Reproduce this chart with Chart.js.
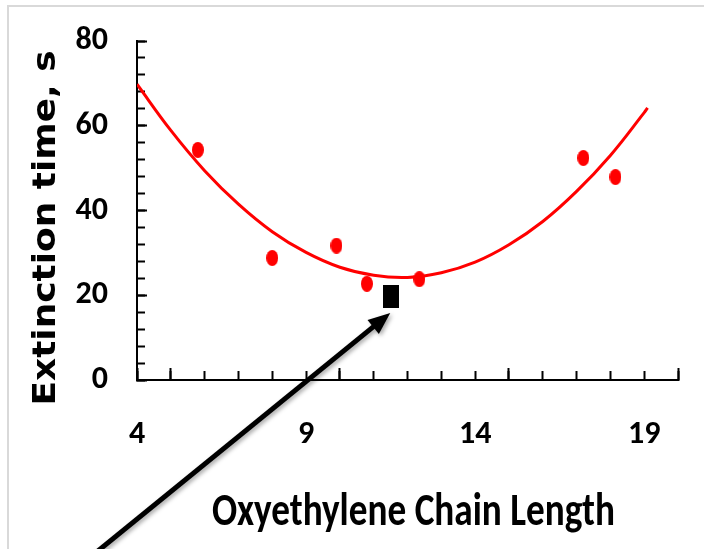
<!DOCTYPE html>
<html><head><meta charset="utf-8">
<script src="https://cdn.jsdelivr.net/npm/chart.js@4.4.1/dist/chart.umd.min.js"></script>
<style>
html,body{margin:0;padding:0;background:#fff;overflow:hidden;}
#wrap{position:relative;width:704px;height:549px;overflow:hidden;}
#frame{position:absolute;left:7px;top:5px;width:720px;height:600px;border-top:2px solid #d9d9d9;border-left:2px solid #d9d9d9;pointer-events:none;}
canvas{position:absolute;left:0;top:0;}
</style></head><body>
<div id="wrap"><div id="frame"></div><canvas id="c" width="704" height="549"></canvas></div>
<script>
// ---- data ----
const chainLength = [5.8, 8.0, 9.9, 10.8, 12.35, 17.2, 18.15];
const extinctionTime = [54.3, 28.8, 31.7, 22.7, 23.8, 52.4, 47.9];
const highlightLength = [11.5];
const highlightTime = [19.7];
const trendLength = [4, 5, 6, 7, 8, 9, 10, 11, 12, 13, 14, 15, 16, 17, 18, 19, 19.1];
const trendTime = [69.8, 58.9, 49.4, 41.5, 35.0, 30.1, 26.6, 24.7, 24.2, 25.3, 27.8, 31.9, 37.4, 44.5, 53.0, 63.1, 64.2];
const xTickLabels = [4, 9, 14, 19];
const yTickLabels = [0, 20, 40, 60, 80];
const arrowTail = {x: 2.05, y: -45.5};
const arrowTip = {x: 11.49, y: 15.8};
const xTitle = 'Oxyethylene Chain Length';
const yTitle = 'Extinction time, s';

const TICKFONT = 'Carlito, "Roboto Condensed", Roboto, sans-serif';
const TITLEFONT = 'Carlito, "Roboto Condensed", Roboto, sans-serif';

function makeEllipse(w, h, color) {
  const c = document.createElement('canvas'); c.width = w; c.height = h;
  const g = c.getContext('2d'); g.fillStyle = color;
  g.beginPath(); g.ellipse(w / 2, h / 2, w / 2, h / 2, 0, 0, Math.PI * 2); g.fill();
  return c;
}
function makeRect(w, h, color) {
  const c = document.createElement('canvas'); c.width = w; c.height = h;
  const g = c.getContext('2d'); g.fillStyle = color; g.fillRect(0, 0, w, h);
  return c;
}
const redDot = makeEllipse(12, 16, '#ff0000');
const blackSquare = makeRect(16, 23, '#000000');

const toXY = (xs, ys) => xs.map((x, i) => ({x: x, y: ys[i]}));

const titlesPlugin = {
  id: 'titles',
  afterDraw(chart) {
    const ctx = chart.ctx, ca = chart.chartArea;
    ctx.save();
    ctx.fillStyle = '#000';
    ctx.font = 'bold 46px ' + TITLEFONT;
    ctx.textAlign = 'center';
    ctx.textBaseline = 'alphabetic';
    let w = ctx.measureText(xTitle).width;
    ctx.save();
    ctx.translate((ca.left + ca.right) / 2 + 6, ca.bottom + 145);
    ctx.scale(403 / w, 1);
    ctx.fillText(xTitle, 0, 0);
    ctx.restore();
    ctx.font = 'bold 32px "DejaVu Sans", Verdana, sans-serif';
    w = ctx.measureText(yTitle).width;
    ctx.save();
    ctx.translate(ca.left - 82, (ca.top + ca.bottom) / 2 + 17.5);
    ctx.rotate(-Math.PI / 2);
    ctx.scale(355 / w, 1);
    ctx.fillText(yTitle, 0, 0);
    ctx.restore();
    ctx.restore();
  }
};

const arrowPlugin = {
  id: 'arrow',
  afterDraw(chart) {
    const ctx = chart.ctx, xs = chart.scales.x, ys = chart.scales.y;
    const x0 = xs.getPixelForValue(arrowTail.x), y0 = ys.getPixelForValue(arrowTail.y);
    const x1 = xs.getPixelForValue(arrowTip.x), y1 = ys.getPixelForValue(arrowTip.y);
    const ang = Math.atan2(y1 - y0, x1 - x0);
    const headLen = 22, headHalf = 9;
    const bx = x1 - headLen * Math.cos(ang), by = y1 - headLen * Math.sin(ang);
    ctx.save();
    ctx.shadowColor = 'rgba(0,0,0,0.35)';
    ctx.shadowBlur = 4; ctx.shadowOffsetX = 2; ctx.shadowOffsetY = 2;
    ctx.strokeStyle = '#000'; ctx.fillStyle = '#000'; ctx.lineWidth = 5;
    ctx.beginPath(); ctx.moveTo(x0, y0); ctx.lineTo(bx + 2 * Math.cos(ang), by + 2 * Math.sin(ang)); ctx.stroke();
    ctx.beginPath();
    ctx.moveTo(x1, y1);
    ctx.lineTo(bx + headHalf * Math.sin(ang), by - headHalf * Math.cos(ang));
    ctx.lineTo(bx - headHalf * Math.sin(ang), by + headHalf * Math.cos(ang));
    ctx.closePath(); ctx.fill();
    ctx.restore();
  }
};

const zeroPad = s => { s.paddingTop = 0; s.paddingBottom = 0; s.paddingLeft = 0; s.paddingRight = 0; };
const tickGrid = len => ({drawOnChartArea: false, drawTicks: true, tickLength: len, tickColor: '#000', tickWidth: 2});

new Chart(document.getElementById('c'), {
  type: 'scatter',
  data: {
    datasets: [
      {label: 'highlight', data: toXY(highlightLength, highlightTime), pointStyle: blackSquare, pointRadius: 6, showLine: false},
      {label: 'measured', data: toXY(chainLength, extinctionTime), pointStyle: redDot, pointRadius: 6, showLine: false},
      {label: 'trend', data: toXY(trendLength, trendTime), showLine: true, borderColor: '#ff0000', borderWidth: 3,
       pointRadius: 0, tension: 0.4, fill: false}
    ]
  },
  options: {
    responsive: false,
    animation: false,
    devicePixelRatio: 1,
    layout: {padding: {left: 0, right: 26, top: 41, bottom: 0}},
    plugins: {legend: {display: false}, tooltip: {enabled: false}},
    scales: {
      x: {
        type: 'linear', position: 'bottom', min: 4, max: 20, weight: 1,
        ticks: {stepSize: 1, autoSkip: false, maxRotation: 0, padding: 45, color: '#000',
          font: {family: TICKFONT, size: 32, weight: 'bold'},
          callback: v => xTickLabels.includes(v) ? String(v) : ''},
        grid: tickGrid(-9),
        border: {display: true, color: '#000', width: 2},
        afterFit: s => { s.height = 169; zeroPad(s); }
      },
      xMajor: {
        type: 'linear', position: 'bottom', min: 4, max: 20, weight: 0, display: true,
        ticks: {stepSize: 5, autoSkip: false, display: false},
        grid: tickGrid(-12),
        border: {display: false},
        afterFit: s => { s.height = 0; zeroPad(s); }
      },
      y: {
        type: 'linear', position: 'left', min: 0, max: 80, weight: 1,
        ticks: {stepSize: 4, autoSkip: false, padding: 37, color: '#000',
          font: {family: TICKFONT, size: 32, weight: 'bold'},
          callback: v => yTickLabels.includes(v) ? String(v) : ''},
        grid: tickGrid(-8),
        border: {display: true, color: '#000', width: 2},
        afterFit: s => { s.width = 137; zeroPad(s); }
      },
      yMajor: {
        type: 'linear', position: 'left', min: 0, max: 80, weight: 0, display: true,
        ticks: {stepSize: 20, autoSkip: false, display: false},
        grid: tickGrid(-10),
        border: {display: false},
        afterFit: s => { s.width = 0; zeroPad(s); }
      }
    }
  },
  plugins: [titlesPlugin, arrowPlugin]
});
</script>
</body></html>
